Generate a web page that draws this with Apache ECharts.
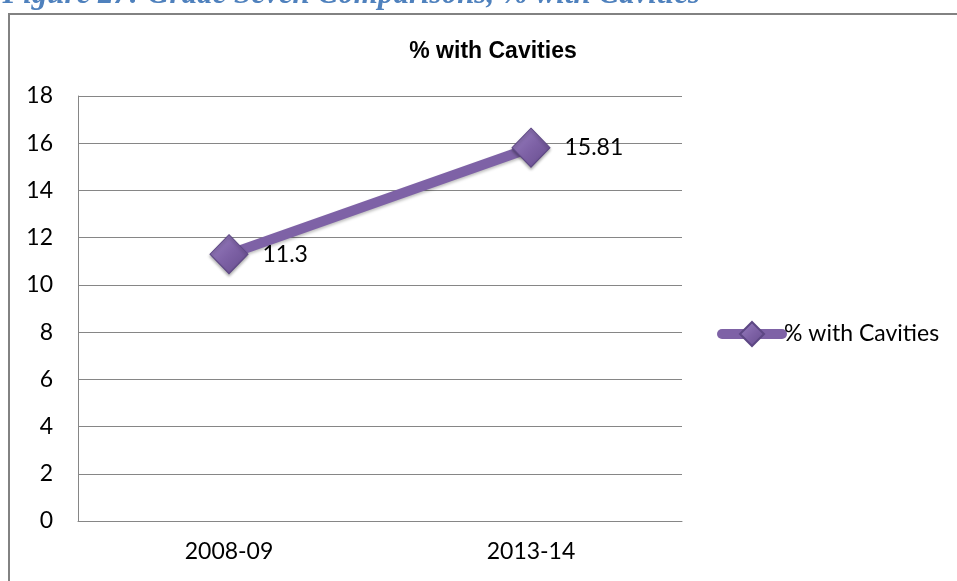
<!DOCTYPE html>
<html>
<head>
<meta charset="utf-8">
<script src="https://cdn.jsdelivr.net/npm/echarts@6/dist/echarts.min.js"></script>
<style>
  html, body { margin: 0; padding: 0; background: #fff; }
  #chart { width: 957px; height: 581px; }
</style>
</head>
<body>
<div id="chart"></div>
<script>
// Survey years and share of grade-seven students with cavities
const categories = ['2008-09', '2013-14'];
const cavitiesPct = [11.3, 15.81];
const seriesName = '% with Cavities';
const yTicks = { min: 0, max: 18, interval: 2 };

const chart = echarts.init(document.getElementById('chart'), null, { renderer: 'canvas' });

const purple = '#7E62A6';
const bodyFont = 'Lato, "Open Sans", sans-serif';

chart.setOption({
  animation: false,
  backgroundColor: '#ffffff',
  title: {
    text: '% with Cavities',
    left: 488,
    top: 35,
    textAlign: 'center',
    textStyle: {
      fontFamily: '"Liberation Sans", Arial, sans-serif',
      fontSize: 23,
      fontWeight: 'bold',
      color: '#000'
    }
  },
  legend: {
    data: [seriesName],
    orient: 'vertical',
    left: 717,
    top: 321,
    padding: 0,
    itemWidth: 60,
    itemHeight: 30,
    lineStyle: { width: 10, cap: 'round' },
    textStyle: {
      fontFamily: bodyFont,
      fontSize: 23,
      color: '#000',
      padding: [0, 0, 0, -3]
    }
  },
  grid: { left: 78, right: 275, top: 96, bottom: 60 },
  xAxis: {
    type: 'category',
    data: categories,
    boundaryGap: true,
    axisLine: { lineStyle: { color: '#868686', width: 1 } },
    axisTick: { show: false },
    axisLabel: {
      margin: 19,
      fontFamily: bodyFont,
      fontSize: 23,
      color: '#000'
    }
  },
  yAxis: {
    type: 'value',
    min: yTicks.min,
    max: yTicks.max,
    interval: yTicks.interval,
    axisLine: { show: true, lineStyle: { color: '#868686', width: 1 } },
    axisTick: { show: false },
    splitLine: { lineStyle: { color: '#868686', width: 1 } },
    axisLabel: {
      margin: 25,
      fontFamily: bodyFont,
      fontSize: 23,
      color: '#000'
    }
  },
  series: [{
    name: seriesName,
    type: 'line',
    data: cavitiesPct,
    symbol: 'diamond',
    symbolSize: [38, 39],
    lineStyle: {
      color: purple,
      width: 10,
      cap: 'round',
      shadowColor: 'rgba(0,0,0,0.25)',
      shadowBlur: 3,
      shadowOffsetY: 2
    },
    itemStyle: {
      color: new echarts.graphic.LinearGradient(0, 0, 1, 1, [
        { offset: 0, color: '#9b82c2' },
        { offset: 0.5, color: '#7E62A6' },
        { offset: 1, color: '#654b8c' }
      ]),
      borderColor: '#5d4784',
      borderWidth: 1,
      shadowColor: 'rgba(0,0,0,0.3)',
      shadowBlur: 3,
      shadowOffsetY: 2
    },
    label: {
      show: true,
      position: 'right',
      distance: 14,
      fontFamily: bodyFont,
      fontSize: 23,
      color: '#000'
    }
  }],
  graphic: [
    {
      type: 'rect',
      shape: { x: 9, y: 14, width: 1000, height: 700 },
      style: { fill: 'none', stroke: '#828282', lineWidth: 2 },
      silent: true
    },
    {
      type: 'text',
      x: 700,
      y: -5,
      style: {
        text: 'Figure 27: Grade Seven Comparisons, % with Cavities',
        align: 'right',
        verticalAlign: 'middle',
        font: 'italic bold 31px "Liberation Serif", "DejaVu Serif", serif',
        fill: '#4F81BD'
      },
      silent: true
    }
  ]
});
</script>
</body>
</html>
